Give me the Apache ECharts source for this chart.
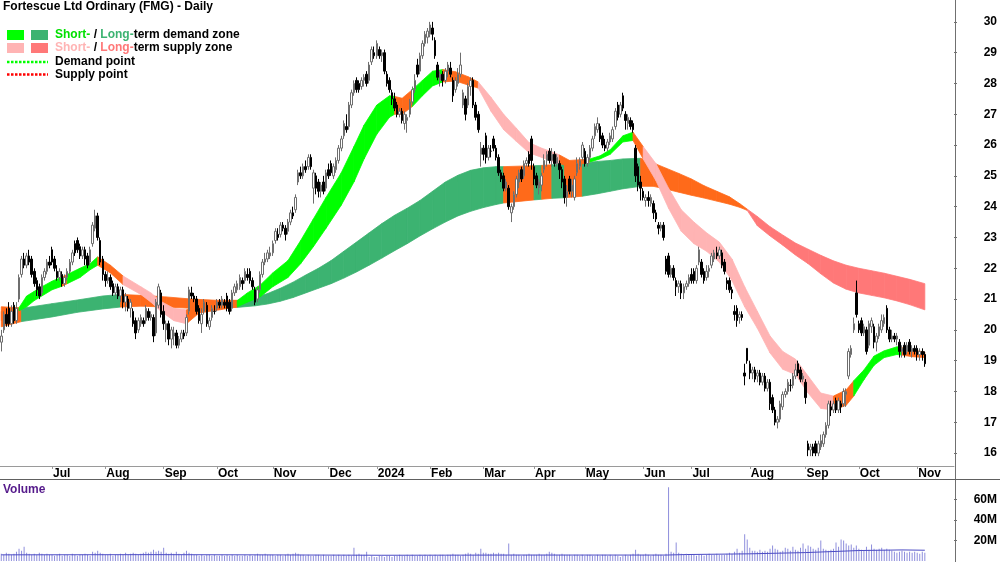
<!DOCTYPE html>
<html>
<head>
<meta charset="utf-8">
<title>FMG daily</title>
<script src="https://cdn.jsdelivr.net/npm/echarts@6/dist/echarts.min.js"></script>
<style>
  html, body { margin: 0; padding: 0; background: #fff; }
  #chart { width: 1000px; height: 562px; }
</style>
</head>
<body>
<div id="chart"></div>
<script>
// trading-day slots: 365 bars (2 Jun 2023 .. 6 Nov 2024) plus empty room on the right
const slotCount = 376
const monthStartIdx = [20, 41, 64, 85, 107, 129, 148, 169, 190, 210, 230, 253, 272, 295, 317, 338, 361]
const monthLabels = ['Jul', 'Aug', 'Sep', 'Oct', 'Nov', 'Dec', '2024', 'Feb', 'Mar', 'Apr', 'May', 'Jun', 'Jul', 'Aug', 'Sep', 'Oct', 'Nov']
const priceTicks = [16, 17, 18, 19, 20, 21, 22, 23, 24, 25, 26, 27, 28, 29, 30]
const volumeTicks = [20, 40, 60]

// [open, close, low, high]
const ohlc = [
  // Jun 2023
  [19.6,19.8,19.3,20.0],[20.0,20.5,19.9,20.6],[20.5,20.2,20.1,20.7],[20.7,20.2,20.1,20.9],[20.2,20.6,20.1,20.8],
  [20.8,20.3,20.2,20.9],[20.3,20.7,20.2,20.9],[21.0,21.7,20.9,21.8],[21.8,22.3,21.7,22.4],[22.3,22.1,22.0,22.5],
  [22.1,22.4,22.0,22.5],[22.4,22.2,22.1,22.6],[22.3,21.8,21.7,22.4],[21.9,21.5,21.4,22.0],[21.6,21.3,21.1,21.7],
  [21.4,21.1,21.0,21.5],[21.2,21.7,21.1,21.8],[21.7,21.9,21.6,22.0],[21.9,22.2,21.8,22.3],[22.2,22.1,22.0,22.4],
  // Jul
  [22.6,22.2,22.1,22.7],[22.3,22.0,21.9,22.4],[21.9,21.7,21.6,22.1],[21.7,21.9,21.6,22.0],[21.8,21.5,21.4,21.9],
  [21.5,21.7,21.4,21.8],[21.7,21.9,21.6,22.0],[21.9,22.2,21.8,22.3],[22.2,22.5,22.1,22.6],[22.8,22.5,22.4,22.9],
  [22.9,22.6,22.5,23.0],[22.7,22.4,22.3,22.8],[22.4,22.6,22.3,22.7],[22.6,22.3,22.1,22.7],[22.4,22.1,22.0,22.5],
  [22.2,22.6,22.1,22.7],[22.8,23.4,22.7,23.5],[23.3,23.7,23.2,23.9],[23.7,23.0,22.9,23.8],[22.9,22.2,22.1,23.0],
  [22.3,21.8,21.6,22.4],
  // Aug
  [21.8,21.6,21.4,21.9],[21.6,21.7,21.5,21.9],[21.7,21.4,21.3,21.8],[21.5,21.2,21.1,21.6],[21.2,21.4,21.1,21.5],
  [21.4,21.1,21.0,21.5],[21.1,21.3,20.9,21.4],[21.3,20.9,20.7,21.4],[20.9,21.1,20.6,21.2],[21.0,20.7,20.6,21.1],
  [20.7,20.9,20.4,21.0],[20.6,20.2,20.1,20.7],[20.3,19.9,19.7,20.4],[20.0,20.3,19.9,20.4],[20.2,20.4,20.1,20.5],
  [20.3,20.2,20.1,20.4],[20.3,20.7,20.2,20.8],[20.6,20.4,20.3,20.7],[20.4,20.5,20.3,20.6],[20.4,19.8,19.6,20.5],
  [19.9,20.9,19.8,21.0],[20.8,21.4,20.7,21.5],[21.2,20.5,20.4,21.3],
  // Sep
  [20.6,20.2,20.0,20.8],[20.0,20.2,19.6,20.3],[20.2,19.7,19.5,20.3],[19.7,20.0,19.4,20.1],[19.8,19.9,19.5,20.1],
  [19.9,19.5,19.4,20.0],[19.5,19.7,19.4,19.8],[19.7,19.9,19.6,20.0],[19.9,19.8,19.7,20.0],[19.9,20.4,19.8,20.5],
  [20.6,21.3,20.5,21.4],[21.2,21.1,21.0,21.4],[21.1,21.0,20.9,21.2],[21.0,20.6,20.5,21.1],[20.7,20.3,20.2,20.8],
  [20.2,20.5,19.9,20.7],[20.6,20.9,20.5,21.0],[20.8,20.2,20.1,20.9],[20.1,20.3,20.0,20.4],[20.4,20.7,20.3,20.8],
  [20.6,20.6,20.5,20.8],
  // Oct
  [20.7,20.9,20.6,21.0],[20.9,20.8,20.7,21.0],[20.8,21.0,20.7,21.1],[20.9,20.8,20.7,21.0],[21.1,20.7,20.6,21.2],
  [20.9,20.6,20.5,21.0],[20.7,21.2,20.6,21.3],[21.2,21.4,21.1,21.5],[21.3,21.5,21.2,21.6],[21.4,21.7,21.3,21.8],
  [21.6,21.5,21.3,21.7],[21.6,21.9,21.5,22.0],[21.8,21.7,21.6,22.0],[21.9,21.6,21.5,22.0],[21.6,21.4,21.3,21.7],
  [21.3,20.9,20.8,21.4],[21.0,21.3,20.9,21.4],[21.3,21.8,21.2,21.9],[21.8,22.2,21.7,22.3],[22.2,22.3,22.1,22.5],
  [22.3,22.5,22.2,22.6],[22.4,22.5,22.3,22.7],
  // Nov
  [22.5,22.8,22.4,22.9],[22.9,23.2,22.8,23.3],[23.1,23.0,22.9,23.3],[23.1,23.4,23.0,23.5],[23.4,23.3,23.2,23.5],
  [23.3,23.1,22.9,23.4],[23.2,23.5,23.1,23.6],[23.5,23.8,23.4,23.9],[23.8,23.7,23.6,24.0],[23.9,24.3,23.8,24.4],
  [24.8,25.1,24.7,25.2],[25.1,25.0,24.9,25.3],[25.0,25.3,24.9,25.4],[25.3,25.2,25.1,25.5],[25.3,25.6,25.2,25.7],
  [25.6,25.3,25.2,25.7],[24.6,25.1,24.1,25.2],[25.0,24.6,24.4,25.1],[24.8,24.5,24.3,24.9],[24.5,24.7,24.3,24.8],
  [24.8,24.5,24.4,25.0],[24.6,25.1,24.5,25.2],
  // Dec
  [25.2,25.0,24.9,25.4],[25.4,25.1,25.0,25.5],[25.0,25.3,24.9,25.4],[25.2,25.5,25.1,25.6],[25.5,25.9,25.4,26.0],
  [25.9,26.2,25.8,26.3],[26.3,26.7,26.2,26.8],[26.6,26.5,26.4,27.0],[26.6,27.3,26.5,27.4],[27.3,27.7,27.2,27.8],
  [27.7,28.0,27.6,28.1],[28.1,27.8,27.7,28.2],[28.0,27.8,27.7,28.1],[27.9,28.1,27.8,28.2],[28.1,28.2,27.9,28.3],
  [28.3,28.0,27.9,28.4],[28.1,28.6,28.0,28.7],[28.7,29.1,28.6,29.2],[29.0,28.9,28.8,29.2],
  // Jan 2024
  [28.9,29.3,28.8,29.4],[29.1,28.9,28.8,29.2],[28.9,29.0,28.7,29.1],[29.0,28.4,28.3,29.1],[28.3,28.0,27.9,28.4],
  [28.1,27.8,27.7,28.2],[27.7,27.5,27.3,27.8],[27.5,27.2,27.1,27.7],[27.3,27.0,26.9,27.4],[27.0,27.1,26.9,27.2],
  [27.1,26.8,26.7,27.2],[26.7,27.0,26.5,27.1],[26.8,26.9,26.4,27.0],[27.0,27.4,26.9,27.5],[27.4,27.8,27.3,27.9],
  [27.8,28.1,27.7,28.3],[28.6,28.3,28.2,28.8],[28.4,28.9,28.3,29.0],[28.9,29.3,28.8,29.4],[29.3,29.6,29.2,29.7],
  [29.5,29.7,29.3,29.8],
  // Feb
  [29.6,29.9,29.5,30.0],[29.8,29.6,29.4,30.0],[29.4,28.9,28.8,29.5],[28.6,28.2,28.1,28.7],[28.1,28.3,27.9,28.4],
  [28.3,28.1,27.9,28.4],[28.1,28.4,28.0,28.5],[28.4,28.6,28.2,28.7],[28.5,28.3,28.2,28.7],[28.1,27.6,27.4,28.2],
  [27.8,28.1,27.7,28.2],[28.0,28.3,27.9,28.5],[28.3,28.6,28.2,29.0],[27.3,27.7,27.2,27.8],[27.5,27.0,26.8,27.6],
  [27.3,27.9,27.2,28.0],[27.9,28.1,27.6,28.2],[28.1,27.3,27.2,28.2],[27.3,26.9,26.8,27.4],[27.0,26.5,26.4,27.1],
  [25.7,25.9,25.3,26.1],
  // Mar
  [25.9,25.7,25.5,26.0],[26.3,25.6,25.4,26.4],[25.6,25.9,25.5,26.0],[25.8,25.8,25.6,26.0],[26.2,25.9,25.8,26.3],
  [25.9,25.6,25.5,26.0],[25.6,25.1,25.0,25.7],[25.1,24.9,24.8,25.2],[25.0,24.6,24.5,25.1],[24.6,24.8,24.5,24.9],
  [24.6,24.0,23.9,24.7],[23.8,24.0,23.5,24.1],[24.0,24.4,23.9,24.5],[24.4,24.9,24.3,25.0],[24.8,25.1,24.6,25.2],
  [25.2,24.9,24.8,25.3],[25.0,25.4,24.9,25.5],[25.4,25.5,25.3,25.6],[25.7,25.4,25.3,25.8],[26.2,25.5,25.2,26.3],
  // Apr
  [25.3,24.9,24.7,25.4],[25.0,24.7,24.6,25.1],[24.6,24.8,24.4,24.9],[24.7,25.0,24.5,25.1],[25.2,25.5,25.1,25.7],
  [25.5,25.7,25.3,25.8],[25.8,25.5,25.4,25.9],[25.5,25.7,25.3,25.9],[25.7,25.4,25.3,25.8],[25.4,25.6,25.3,25.7],
  [25.4,25.2,24.9,25.5],[25.2,24.8,24.6,25.3],[24.9,24.3,24.1,25.0],[24.3,24.5,24.0,24.7],[24.9,24.5,24.4,25.0],
  [24.5,24.7,24.3,24.9],[24.3,24.9,24.2,25.0],[25.1,25.4,25.0,25.6],[25.3,25.5,25.2,25.6],[25.6,26.0,25.5,26.1],
  // May
  [25.8,25.4,25.3,25.9],[25.4,25.6,25.3,25.7],[25.6,25.9,25.5,26.0],[25.9,26.2,25.8,26.3],[26.3,26.6,26.2,26.7],
  [26.5,26.7,26.4,26.9],[26.6,26.2,26.1,26.7],[26.3,26.0,25.9,26.4],[26.0,25.9,25.8,26.2],[25.9,26.1,25.8,26.2],
  [26.1,26.3,26.0,26.4],[26.2,26.5,26.1,26.6],[26.6,27.1,26.5,27.2],[27.3,26.9,26.8,27.4],[27.0,27.3,26.9,27.4],
  [27.6,27.2,27.1,27.7],[27.0,26.8,26.5,27.1],[26.7,26.9,26.5,27.0],[26.8,26.6,26.5,26.9],[26.7,26.5,26.4,26.8],
  [25.9,25.0,24.8,26.0],[25.3,24.7,24.5,25.4],[24.8,24.6,24.2,25.0],
  // Jun
  [24.5,24.3,24.2,24.6],[24.2,24.3,24.0,24.4],[24.3,24.2,24.0,24.5],[24.1,24.3,24.0,24.4],[24.1,23.8,23.6,24.2],
  [23.8,23.6,23.5,23.9],[23.4,23.3,23.1,23.5],[23.3,23.4,23.2,23.5],[23.4,23.0,22.9,23.5],[22.3,21.9,21.8,22.4],
  [22.4,21.8,21.7,22.5],[21.8,22.0,21.7,22.1],[22.0,21.7,21.6,22.1],[21.6,21.4,21.1,21.7],[21.4,21.5,21.2,21.6],
  [21.5,21.2,21.0,21.6],[21.2,21.4,21.0,21.5],[21.4,21.5,21.3,21.6],[21.5,21.7,21.4,21.8],
  // Jul
  [21.8,21.6,21.5,22.0],[21.9,21.6,21.5,22.0],[21.6,22.0,21.5,22.1],[22.2,22.6,22.1,22.7],[22.2,21.8,21.7,22.3],
  [21.9,21.6,21.5,22.0],[21.7,21.9,21.6,22.1],[21.9,22.0,21.7,22.1],[22.1,22.4,22.0,22.5],[22.3,22.5,22.2,22.6],
  [22.5,22.4,22.3,22.7],[22.4,22.6,22.3,22.7],[22.5,22.1,22.0,22.6],[22.2,21.9,21.8,22.3],[21.6,21.5,21.3,21.7],
  [21.6,21.3,21.2,21.7],[21.3,21.2,21.0,21.4],[20.6,20.5,20.3,20.8],[20.7,20.3,20.1,20.8],[20.4,20.5,20.2,20.6],
  [20.5,20.4,20.3,20.6],[18.6,18.5,18.2,18.9],[19.4,19.0,18.9,19.4],
  // Aug
  [18.9,18.6,18.4,19.0],[18.6,18.7,18.4,18.8],[18.7,18.4,18.3,18.8],[18.5,18.6,18.3,18.7],[18.6,18.3,18.2,18.7],
  [18.3,18.5,18.2,18.6],[18.5,18.1,18.0,18.6],[18.1,18.3,18.0,18.4],[18.3,17.6,17.4,18.4],[17.8,17.4,17.3,17.9],
  [17.4,17.0,16.9,17.5],[17.0,17.1,16.8,17.2],[17.1,17.6,17.0,17.7],[17.5,17.9,17.4,18.0],[17.9,18.0,17.8,18.1],
  [18.0,18.3,17.9,18.4],[18.2,18.2,18.0,18.4],[18.2,18.5,18.1,18.6],[18.5,18.7,18.4,18.9],[18.9,18.6,18.5,19.0],
  [18.7,18.4,18.3,18.8],[18.4,18.5,18.3,18.6],
  // Sep
  [18.3,17.8,17.6,18.4],[16.3,16.1,15.9,16.4],[16.1,16.2,15.9,16.3],[16.2,16.0,15.9,16.3],[16.3,16.0,15.9,16.4],
  [16.0,16.3,15.9,16.4],[16.2,16.4,16.1,16.6],[16.3,16.6,16.2,16.7],[16.6,16.9,16.5,17.0],[16.9,17.6,16.8,17.7],
  [17.5,17.4,17.2,17.7],[17.4,17.6,17.3,17.7],[17.7,17.4,17.3,17.8],[17.4,17.7,17.3,17.8],[17.6,17.5,17.3,17.7],
  [17.6,18.0,17.5,18.1],[17.9,18.0,17.5,18.1],[18.5,19.3,18.4,19.4],[19.2,19.4,19.1,19.5],[20.0,20.2,19.9,20.4],
  [21.2,20.5,20.4,21.6],
  // Oct
  [20.2,20.0,19.9,20.3],[20.3,19.9,19.8,20.4],[19.9,20.1,19.8,20.2],[20.0,19.3,19.2,20.1],[19.5,20.2,19.4,20.3],
  [20.1,20.3,19.9,20.4],[20.1,19.6,19.4,20.2],[19.6,19.8,19.3,19.9],[19.8,20.1,19.7,20.2],[20.0,20.3,19.9,20.5],
  [20.2,20.4,20.1,20.5],[20.7,20.0,19.9,20.8],[20.0,19.7,19.6,20.1],[19.7,19.8,19.6,20.0],[19.8,19.7,19.6,19.9],
  [19.7,19.8,19.5,19.9],[19.6,19.3,19.1,19.7],[19.3,19.4,19.1,19.5],[19.5,19.2,19.1,19.6],[19.3,19.5,19.2,19.6],
  [19.6,19.3,19.2,19.7],[19.3,19.4,19.1,19.5],[19.4,19.3,19.2,19.5],
  // Nov
  [19.4,19.2,19.0,19.5],[19.2,19.3,19.0,19.4],[19.3,19.2,19.0,19.4],[19.2,18.9,18.8,19.3]
]

// daily volume, millions
const volume = [
  7,6,8,7,6,7,9,12,10,14,8,7,6,7,6,8,7,6,7,6,
  6,5,6,7,5,6,6,5,7,6,5,6,6,7,6,5,9,8,10,8,7,
  6,6,7,5,6,6,7,6,8,6,7,8,7,6,7,8,9,8,9,11,9,10,9,
  13,8,7,8,7,9,7,6,8,10,8,7,6,6,5,6,5,6,6,5,6,
  5,5,6,5,6,5,6,5,6,5,5,6,5,6,5,6,7,6,6,7,6,6,
  6,5,6,6,5,6,7,6,7,8,7,6,6,5,6,5,5,6,6,5,6,5,
  5,5,6,5,6,5,6,5,6,5,13,6,7,6,6,9,4,5,4,
  4,5,5,4,5,5,4,5,5,6,5,5,6,5,6,5,5,6,5,6,5,
  6,5,6,5,6,6,5,6,6,7,6,6,5,6,7,8,7,6,8,7,12,
  8,8,7,7,8,7,8,7,7,6,17,6,7,6,6,5,6,6,7,6,
  6,6,7,6,6,7,9,8,7,6,6,7,6,6,6,5,6,6,5,6,
  5,6,6,5,5,6,5,6,6,5,6,5,6,5,4,5,6,5,6,7,11,7,6,
  6,7,6,5,6,7,6,6,5,7,72,9,8,18,8,7,6,7,6,
  6,6,5,6,6,5,6,7,6,6,7,6,6,6,7,8,7,9,12,8,10,26,21,
  13,10,10,9,11,9,10,9,12,15,12,11,9,10,13,12,10,14,11,10,13,17,
  12,15,14,12,11,13,20,12,11,10,11,12,18,14,21,20,17,15,16,13,15,
  12,11,10,14,11,16,12,11,12,13,11,12,11,10,9,8,9,10,9,8,9,8,9,
  8,7,9,8
]

// volume average line, read at a few points: [slot, millions]
const volumeAvg = [[0, 6.0], [60, 6.2], [100, 6.0], [150, 5.6], [200, 5.8], [262, 5.8], [270, 6.3], [295, 7.0], [317, 8.2], [338, 10.2], [355, 10.8], [364, 10.5]]

// short-term zone: knot slot, upper edge, lower edge; zone letter per segment (D demand, N neutral, S supply)
const shortIdx = [0,7,10,13,16,20,24,26,31,35,38,43,48,55,59,63,68,73,78,86,93,97,102,107,113,118,123,128,134,139,143,148,153,155,158,162,166,170,174,179,184,188,193,198,203,208,213,218,220,224,232,236,240,245,249,253,258,263,268,273,278,283,288,293,298,303,308,313,318,323,328,333,336,340,344,348,353,355,359,364]
const shortHi = [20.75,20.72,21.1,21.25,21.4,21.58,21.72,21.8,22.0,22.15,22.37,22.1,21.75,21.4,21.2,20.92,20.7,20.65,20.85,20.92,20.95,21.2,21.45,21.85,22.25,22.9,23.6,24.3,25.1,25.95,26.65,27.3,27.6,27.58,27.52,27.8,28.1,28.4,28.45,28.38,28.22,28.05,27.55,27.0,26.55,26.08,25.9,25.75,25.68,25.5,25.55,25.65,25.85,26.3,26.42,25.95,25.4,24.6,23.9,23.5,23.15,22.85,22.3,21.4,20.6,19.8,19.3,19.05,18.5,17.95,17.85,18.05,18.35,18.7,19.15,19.32,19.45,19.42,19.35,19.28]
const shortLo = [20.3,20.62,20.75,20.95,21.1,21.3,21.42,21.5,21.7,21.95,22.1,21.85,21.47,21.15,20.9,20.6,20.3,20.2,20.55,20.65,20.75,20.9,21.07,21.4,21.7,22.15,22.7,23.3,24.05,24.8,25.55,26.35,26.9,27.0,27.0,27.25,27.6,27.92,28.05,28.08,27.95,27.85,27.1,26.5,26.12,25.75,25.6,25.45,25.4,25.3,25.45,25.55,25.7,26.1,26.15,25.55,24.85,23.95,23.2,22.8,22.55,22.2,21.6,20.75,20.05,19.25,18.72,18.55,17.95,17.45,17.4,17.55,17.85,18.38,18.85,19.1,19.2,19.18,19.13,19.1]
const shortZone = 'NDDDDDNDDD' + 'NNSSSSSNNN' + 'DDDDDDDDDD' + 'DDDNNDDDNN' + 'NSSSSSSSNN' + 'DDDDNSSSSS' + 'SSSSSSSSSS' + 'NNDDDDDNN'

// long-term zone
const longIdx = [0,8,20,30,40,47,55,65,75,85,93,100,105,110,115,120,125,130,135,140,145,150,155,160,165,170,175,180,185,190,195,198,210,213,217,222,229,235,240,245,252,257,262,267,272,277,282,287,291,294,298,303,308,313,318,323,328,333,338,343,348,353,358,364]
const longHi = [20.6,20.7,20.85,20.97,21.1,21.15,21.12,21.07,21.0,20.96,20.96,21.05,21.18,21.35,21.55,21.78,22.0,22.25,22.55,22.85,23.15,23.45,23.72,23.95,24.2,24.5,24.8,25.02,25.18,25.26,25.3,25.3,25.33,25.34,25.36,25.38,25.42,25.47,25.5,25.55,25.57,25.42,25.25,25.08,24.9,24.68,24.5,24.32,24.1,23.92,23.68,23.35,23.08,22.82,22.62,22.42,22.24,22.1,22.0,21.92,21.84,21.74,21.64,21.5]
const longLo = [20.1,20.27,20.42,20.57,20.68,20.74,20.77,20.74,20.7,20.7,20.73,20.78,20.84,20.93,21.05,21.2,21.35,21.5,21.68,21.88,22.1,22.33,22.57,22.8,23.05,23.28,23.5,23.7,23.85,23.97,24.07,24.12,24.22,24.24,24.27,24.29,24.34,24.42,24.5,24.58,24.66,24.66,24.57,24.47,24.37,24.28,24.18,24.08,23.98,23.88,23.38,23.05,22.75,22.43,22.15,21.82,21.52,21.32,21.2,21.12,21.04,20.94,20.82,20.65]
const longZone = 'NDDDDNNNNN' + 'DDDDDDDDDDDDDDDDDDDDD' + 'NDNDN' + 'DDDD' + 'NNNNNNNNN' + 'SSSSSSSSSSSSSS'

const shortColors = { D: '#00ff00', N: '#ff6a1a', S: '#ffb4b4' }
const longColors = { D: '#3cb371', N: '#ff6a1a', S: '#ff7878' }

const FONT = '"Liberation Sans", Arial, sans-serif'
const slots = Array.from({ length: slotCount }, (_, i) => String(i))
const labelAt = {}
monthStartIdx.forEach((idx, k) => { labelAt[idx] = monthLabels[k] })
const isMonthStart = (i) => labelAt[i] !== undefined

function bandSegments(idx, hi, lo, zone) {
  const out = []
  for (let k = 0; k < idx.length - 1; k++) {
    out.push([idx[k], hi[k], lo[k], idx[k + 1], hi[k + 1], lo[k + 1], 'DNS'.indexOf(zone[k])])
  }
  return out
}

function bandSeries(name, data, colors) {
  const palette = [colors.D, colors.N, colors.S]
  return {
    name,
    type: 'custom',
    xAxisIndex: 0,
    yAxisIndex: 0,
    silent: true,
    encode: { x: [0, 3], y: [1, 2, 4, 5] },
    data,
    renderItem(params, api) {
      const a1 = api.coord([api.value(0), api.value(1)])
      const a2 = api.coord([api.value(0), api.value(2)])
      const b1 = api.coord([api.value(3), api.value(4)])
      const b2 = api.coord([api.value(3), api.value(5)])
      const c = palette[api.value(6)]
      return {
        type: 'polygon',
        shape: { points: [a1, b1, b2, a2] },
        style: { fill: c, stroke: c, lineWidth: 0.8 },
      }
    },
  }
}

const chart = echarts.init(document.getElementById('chart'))

const axisText = { color: '#000', fontWeight: 'bold', fontSize: 12, fontFamily: FONT }

chart.setOption({
  animation: false,
  grid: [
    { left: 0, right: 45, top: 0, height: 466 },
    { left: 0, right: 45, top: 480, height: 81 },
  ],
  xAxis: [
    {
      type: 'category',
      gridIndex: 0,
      data: slots,
      boundaryGap: true,
      axisLine: { lineStyle: { color: '#9a9a9a', width: 1 } },
      axisTick: { show: true, alignWithLabel: true, interval: isMonthStart, length: 3, lineStyle: { color: '#9a9a9a' } },
      axisLabel: {
        ...axisText,
        interval: isMonthStart,
        formatter: (v, i) => labelAt[i] || '',
        align: 'left',
        margin: 2,
        padding: [0, 0, 0, 1],
      },
      splitLine: { show: false },
    },
    {
      type: 'category',
      gridIndex: 1,
      data: slots,
      boundaryGap: true,
      axisLine: { show: false },
      axisTick: { show: false },
      axisLabel: { show: false },
      splitLine: { show: false },
    },
  ],
  yAxis: [
    {
      type: 'value',
      gridIndex: 0,
      position: 'right',
      min: 15.58,
      max: 30.71,
      axisLine: { show: false },
      axisTick: { show: true, length: 3, customValues: priceTicks, lineStyle: { color: '#707070' } },
      axisLabel: { ...axisText, customValues: priceTicks, align: 'right', margin: 43 },
      splitLine: { show: false },
    },
    {
      type: 'value',
      gridIndex: 1,
      position: 'right',
      min: 0,
      max: 79,
      axisLine: { show: false },
      axisTick: { show: true, length: 3, customValues: volumeTicks, lineStyle: { color: '#707070' } },
      axisLabel: { ...axisText, customValues: volumeTicks, align: 'right', margin: 43, formatter: (v) => v + 'M' },
      splitLine: { show: false },
    },
  ],
  series: [
    bandSeries('long', bandSegments(longIdx, longHi, longLo, longZone), longColors),
    bandSeries('short', bandSegments(shortIdx, shortHi, shortLo, shortZone), shortColors),
    {
      name: 'FMG',
      type: 'candlestick',
      xAxisIndex: 0,
      yAxisIndex: 0,
      data: ohlc,
      barWidth: 2,
      itemStyle: {
        color: '#ffffff',
        color0: '#000000',
        borderColor: '#6e6e6e',
        borderColor0: '#000000',
        borderWidth: 1,
      },
    },
    {
      name: 'Volume',
      type: 'bar',
      xAxisIndex: 1,
      yAxisIndex: 1,
      data: volume,
      barWidth: 1,
      itemStyle: { color: '#8e8edc' },
    },
    {
      name: 'Volume avg',
      type: 'line',
      xAxisIndex: 1,
      yAxisIndex: 1,
      data: volumeAvg,
      symbol: 'none',
      lineStyle: { color: '#4b4bc4', width: 1 },
    },
  ],
  graphic: [
    { type: 'line', shape: { x1: 955.5, y1: 0, x2: 955.5, y2: 562 }, style: { stroke: '#707070', lineWidth: 1 } },
    { type: 'line', shape: { x1: 0, y1: 479.5, x2: 1000, y2: 479.5 }, style: { stroke: '#606060', lineWidth: 1 } },
    { type: 'text', x: 3, y: 7, style: { text: 'Fortescue Ltd Ordinary (FMG) - Daily', font: 'bold 12px ' + FONT, fill: '#000', verticalAlign: 'middle' } },
    { type: 'text', x: 3, y: 490, style: { text: 'Volume', font: 'bold 12px ' + FONT, fill: '#551a8b', verticalAlign: 'middle' } },
    { type: 'rect', shape: { x: 7, y: 30, width: 17, height: 10 }, style: { fill: shortColors.D } },
    { type: 'rect', shape: { x: 31, y: 30, width: 17, height: 10 }, style: { fill: longColors.D } },
    { type: 'rect', shape: { x: 7, y: 43, width: 17, height: 10 }, style: { fill: shortColors.S } },
    { type: 'rect', shape: { x: 31, y: 43, width: 17, height: 10 }, style: { fill: longColors.S } },
    { type: 'line', shape: { x1: 7, y1: 62, x2: 48, y2: 62 }, style: { stroke: '#00ff00', lineWidth: 2.5, lineDash: [2.5, 1.5] } },
    { type: 'line', shape: { x1: 7, y1: 74.5, x2: 48, y2: 74.5 }, style: { stroke: '#ff0000', lineWidth: 2.5, lineDash: [2.5, 1.5] } },
    {
      type: 'text', x: 55, y: 35,
      style: {
        text: '{g|Short-}{k| / }{d|Long-}{k|term demand zone}',
        verticalAlign: 'middle',
        rich: {
          g: { fill: '#00e000', font: 'bold 12px ' + FONT },
          d: { fill: '#3cb371', font: 'bold 12px ' + FONT },
          k: { fill: '#000', font: 'bold 12px ' + FONT },
        },
      },
    },
    {
      type: 'text', x: 55, y: 48,
      style: {
        text: '{p|Short-}{k| / }{r|Long-}{k|term supply zone}',
        verticalAlign: 'middle',
        rich: {
          p: { fill: '#ffb4b4', font: 'bold 12px ' + FONT },
          r: { fill: '#ff7878', font: 'bold 12px ' + FONT },
          k: { fill: '#000', font: 'bold 12px ' + FONT },
        },
      },
    },
    { type: 'text', x: 55, y: 62, style: { text: 'Demand point', font: 'bold 12px ' + FONT, fill: '#000', verticalAlign: 'middle' } },
    { type: 'text', x: 55, y: 75, style: { text: 'Supply point', font: 'bold 12px ' + FONT, fill: '#000', verticalAlign: 'middle' } },
  ],
})
</script>
</body>
</html>
